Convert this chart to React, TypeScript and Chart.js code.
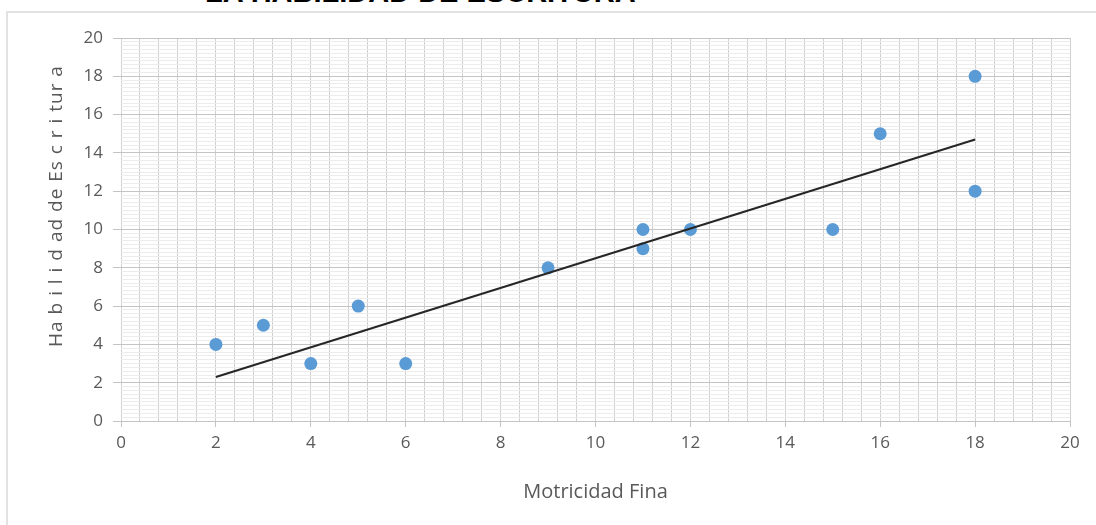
import React, { useEffect, useRef } from "react";
import { Chart, registerables } from "chart.js";

Chart.register(...registerables);

// Data
const motricidadFina = [2, 3, 4, 5, 6, 9, 11, 11, 12, 15, 16, 18, 18];
const habilidadEscritura = [4, 5, 3, 6, 3, 8, 10, 9, 10, 10, 15, 18, 12];
const trendX = [2, 18];
const trendY = [2.3, 14.7];

const chartTitle = "LA HABILIDAD DE ESCRITURA";
const xAxisTitle = "Motricidad Fina";
const yAxisTitle = "Ha b i l i d ad de Es c r i tur a";

const axisMin = 0;
const axisMax = 20;
const majorStep = 2;
const xMinorStep = 0.4;
const yMinorStep = 0.2;

const isMajor = (v: number) => Math.abs(v / majorStep - Math.round(v / majorStep)) < 1e-6;

const FONT = "'Open Sans', sans-serif";
const TEXT = "#595959";

// Draws the rotated y-axis title (placed a little above the vertical centre, as in the reference)
const yTitlePlugin = {
  id: "yTitlePlugin",
  afterDraw(chart: any) {
    const { ctx, chartArea } = chart;
    ctx.save();
    ctx.translate(chartArea.left - 64, chartArea.top + 168);
    ctx.rotate(-Math.PI / 2);
    ctx.fillStyle = TEXT;
    ctx.font = "19px 'Open Sans', sans-serif";
    try {
      (ctx as any).letterSpacing = "1px";
    } catch (e) {}
    ctx.textAlign = "center";
    ctx.textBaseline = "middle";
    ctx.fillText(yAxisTitle, 0, 0);
    ctx.restore();
  },
};

export default function App() {
  const ref = useRef<HTMLCanvasElement | null>(null);

  useEffect(() => {
    if (!ref.current) return;
    const scatterPts = motricidadFina.map((x, i) => ({ x, y: habilidadEscritura[i] }));
    const trendPts = trendX.map((x, i) => ({ x, y: trendY[i] }));
    const chart = new Chart(ref.current, {
      type: "scatter",
      data: {
        datasets: [
          {
            label: "Tendencia",
            data: trendPts,
            showLine: true,
            borderColor: "#262626",
            borderWidth: 2,
            pointRadius: 0,
            order: 0,
          } as any,
          {
            label: "Datos",
            data: scatterPts,
            backgroundColor: "#5B9BD5",
            borderColor: "#5B9BD5",
            pointRadius: 6.5,
            pointBorderWidth: 0,
            order: 1,
          },
        ],
      },
      options: {
        responsive: false,
        animation: false,
        devicePixelRatio: 1,
        layout: { padding: { left: 40, top: 38, right: 26, bottom: 0 } },
        plugins: {
          legend: { display: false },
          tooltip: { enabled: false },
          title: { display: false },
        },
        scales: {
          x: {
            type: "linear",
            min: axisMin,
            max: axisMax,
            afterFit: (s: any) => {
              s.height = 104;
            },
            border: { display: true, color: "#c4c4c4", width: 1 },
            grid: {
              color: "#d0d0d0",
              lineWidth: 1,
              drawTicks: true,
              tickLength: 6,
              tickColor: (c: any) => (isMajor(c.tick.value) ? "#c4c4c4" : "rgba(0,0,0,0)"),
            },
            ticks: {
              stepSize: xMinorStep,
              autoSkip: false,
              maxRotation: 0,
              padding: 6,
              color: TEXT,
              font: { family: FONT, size: 17 },
              callback: (v: any) => (isMajor(Number(v)) ? String(Math.round(Number(v))) : ""),
            },
            title: {
              display: true,
              text: xAxisTitle,
              color: TEXT,
              font: { family: FONT, size: 20 },
              padding: { top: 0, bottom: 21 },
            },
          },
          y: {
            type: "linear",
            min: axisMin,
            max: axisMax,
            afterFit: (s: any) => {
              s.width = 81;
            },
            border: { display: false },
            grid: {
              color: (c: any) => (isMajor(c.tick.value) ? "#c4c4c4" : "#ececec"),
              lineWidth: 1,
              drawTicks: true,
              tickLength: 8,
              tickColor: (c: any) => (isMajor(c.tick.value) ? "#c4c4c4" : "rgba(0,0,0,0)"),
            },
            ticks: {
              stepSize: yMinorStep,
              autoSkip: false,
              padding: 10,
              color: TEXT,
              font: { family: FONT, size: 17 },
              callback: (v: any) => (isMajor(Number(v)) ? String(Math.round(Number(v))) : ""),
            },
            title: { display: false },
          },
        },
      },
      plugins: [yTitlePlugin],
    });
    return () => chart.destroy();
  }, []);

  return (
    <div
      style={{
        position: "fixed",
        left: 0,
        top: 0,
        width: 1096,
        height: 525,
        overflow: "hidden",
        background: "#ffffff",
      }}
    >
      <div
        style={{
          position: "absolute",
          left: 6,
          top: 11,
          width: 1200,
          height: 700,
          border: "2px solid #e2e2e2",
          boxSizing: "border-box",
        }}
      />
      <div
        style={{
          position: "absolute",
          left: 205,
          top: -22,
          font: "bold 29px 'Liberation Sans', Arial, sans-serif",
          lineHeight: "29px",
          color: "#000000",
          whiteSpace: "nowrap",
        }}
      >
        {chartTitle}
      </div>
      <canvas
        ref={ref}
        width={1096}
        height={525}
        style={{ position: "absolute", left: 0, top: 0, display: "block" }}
      />
    </div>
  );
}
